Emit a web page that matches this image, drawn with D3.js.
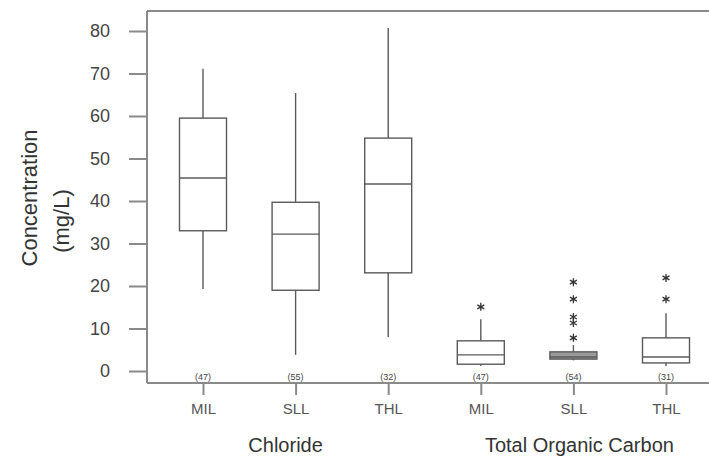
<!DOCTYPE html>
<html>
<head>
<meta charset="utf-8">
<script src="https://cdn.jsdelivr.net/npm/d3@7"></script>
<style>
  body { margin: 0; background: #fff; }
  text { font-family: Arial, "Liberation Sans", sans-serif; }
</style>
</head>
<body>
<div id="chart"></div>
<script>
// Data
const sites = ['MIL', 'SLL', 'THL', 'MIL', 'SLL', 'THL'];
const groups = ['Chloride', 'Total Organic Carbon'];
const groupOf = [0, 0, 0, 1, 1, 1];
const counts = [47, 55, 32, 47, 54, 31];
const whiskerLow = [19.3, 3.8, 8.0, 1.2, 2.5, 1.2];
const q1 = [33.0, 19.0, 23.1, 1.6, 2.8, 1.9];
const median = [45.4, 32.2, 44.0, 3.8, 3.3, 3.3];
const q3 = [59.5, 39.7, 54.8, 7.1, 4.5, 7.8];
const whiskerHigh = [71.1, 65.4, 80.7, 12.2, 6.1, 13.6];
const outliers = [[], [], [], [15.1], [7.8, 11.3, 12.7, 16.9, 20.9], [16.9, 21.9]];
const yTicks = [0, 10, 20, 30, 40, 50, 60, 70, 80];

function drawBoxPlot() {
  const width = 709;
  const height = 457;
  const frame = { left: 147, top: 11, bottom: 383 };

  const svg = d3.select('#chart')
    .append('svg')
    .attr('width', width)
    .attr('height', height);

  const x = d3.scaleLinear()
    .domain([0, 1])
    .range([203, 295.6]);

  const y = d3.scaleLinear()
    .domain([0, 80])
    .range([371, 31]);

  const boxW = 47;
  const stroke = '#5a5a5a';
  const idx = d3.range(sites.length);

  // frame lines
  svg.append('line')
    .attr('x1', frame.left).attr('x2', width)
    .attr('y1', frame.top).attr('y2', frame.top)
    .attr('stroke', '#8a8a8a').attr('stroke-width', 2);
  svg.append('line')
    .attr('x1', frame.left).attr('x2', width)
    .attr('y1', frame.bottom).attr('y2', frame.bottom)
    .attr('stroke', '#8a8a8a').attr('stroke-width', 2);

  // y axis
  const yAxis = svg.append('g')
    .attr('transform', `translate(${frame.left},0)`)
    .call(d3.axisLeft(y).tickValues(yTicks).tickSize(18).tickPadding(19));
  yAxis.select('.domain')
    .attr('d', `M0,${frame.top}V${frame.bottom}`)
    .attr('stroke', '#8a8a8a').attr('stroke-width', 2);
  yAxis.selectAll('.tick line').attr('stroke', '#8a8a8a').attr('stroke-width', 2);
  yAxis.selectAll('.tick text')
    .attr('fill', '#444').style('font-size', '18px');

  // x ticks
  const xAxis = svg.append('g')
    .attr('transform', `translate(0,${frame.bottom})`)
    .call(d3.axisBottom(x).tickValues(idx).tickSize(12).tickPadding(8)
      .tickFormat(i => sites[i]));
  xAxis.select('.domain').remove();
  xAxis.selectAll('.tick line').attr('stroke', '#8a8a8a').attr('stroke-width', 2);
  xAxis.selectAll('.tick text')
    .attr('fill', '#555').style('font-size', '15px');

  // group labels
  groups.forEach((g, gi) => {
    const members = idx.filter(i => groupOf[i] === gi);
    svg.append('text')
      .attr('x', d3.mean(members, i => x(i)) + (gi === 0 ? -10 : 6))
      .attr('y', 452)
      .attr('text-anchor', 'middle')
      .attr('fill', '#333')
      .style('font-size', '20px')
      .text(g);
  });

  // boxes
  const box = svg.append('g').selectAll('g')
    .data(idx)
    .join('g')
    .attr('fill', 'none')
    .attr('stroke', stroke)
    .attr('stroke-width', 1.4);

  box.append('line')
    .attr('x1', i => x(i)).attr('x2', i => x(i))
    .attr('y1', i => y(q3[i])).attr('y2', i => y(whiskerHigh[i]));
  box.append('line')
    .attr('x1', i => x(i)).attr('x2', i => x(i))
    .attr('y1', i => y(q1[i])).attr('y2', i => y(whiskerLow[i]));
  box.append('rect')
    .attr('x', i => x(i) - boxW / 2)
    .attr('width', boxW)
    .attr('y', i => y(q3[i]))
    .attr('height', i => y(q1[i]) - y(q3[i]))
    .attr('fill', i => (y(q1[i]) - y(q3[i]) < 10 ? '#9a9a9a' : 'none'));
  box.append('line')
    .attr('x1', i => x(i) - boxW / 2).attr('x2', i => x(i) + boxW / 2)
    .attr('y1', i => y(median[i])).attr('y2', i => y(median[i]));

  // outliers
  const star = d3.symbol().type(d3.symbolAsterisk).size(45);
  const pts = idx.flatMap(i => outliers[i].map(v => ({ i, v })));
  svg.append('g').selectAll('path')
    .data(pts)
    .join('path')
    .attr('transform', d => `translate(${x(d.i)},${y(d.v)})`)
    .attr('d', star)
    .attr('fill', 'none')
    .attr('stroke', '#333')
    .attr('stroke-width', 1.3);

  // counts
  svg.append('g').selectAll('text')
    .data(idx)
    .join('text')
    .attr('x', i => x(i))
    .attr('y', 380)
    .attr('text-anchor', 'middle')
    .attr('fill', '#444')
    .style('font-size', '9px')
    .text(i => `(${counts[i]})`);

  // y label
  svg.append('text')
    .attr('transform', 'translate(37,198) rotate(-90)')
    .attr('text-anchor', 'middle')
    .attr('fill', '#333')
    .style('font-size', '22px')
    .text('Concentration');
  svg.append('text')
    .attr('transform', 'translate(69,221) rotate(-90)')
    .attr('text-anchor', 'middle')
    .attr('fill', '#333')
    .style('font-size', '22px')
    .text('(mg/L)');
}

drawBoxPlot();
</script>
</body>
</html>
